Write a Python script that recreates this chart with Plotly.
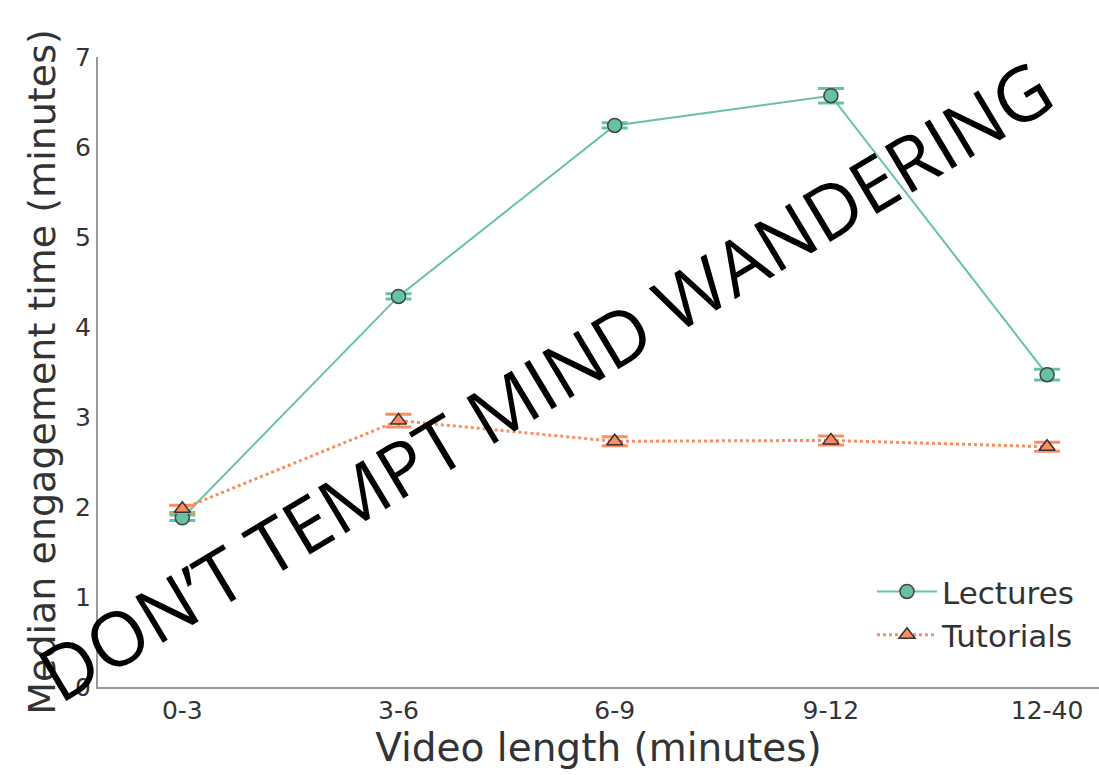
import plotly.graph_objects as go

categories = ["0-3", "3-6", "6-9", "9-12", "12-40"]
lectures = [1.88, 4.34, 6.24, 6.57, 3.47]
lectures_err = [0.03, 0.03, 0.03, 0.08, 0.06]
tutorials = [1.98, 2.96, 2.73, 2.74, 2.67]
tutorials_err = [0.04, 0.07, 0.05, 0.05, 0.05]
y_ticks = [0, 1, 2, 3, 4, 5, 6, 7]

GREEN = "#66c2a5"
ORANGE = "#fc8d62"
FONT = "DejaVu Sans"

fig = go.Figure()
fig.add_trace(go.Scatter(
    x=categories, y=lectures, name="Lectures", mode="lines+markers",
    line=dict(color=GREEN, width=2),
    marker=dict(symbol="circle", size=14, color=GREEN, line=dict(color="#444", width=1.5)),
    error_y=dict(type="data", array=lectures_err, color=GREEN, thickness=3, width=13),
))
fig.add_trace(go.Scatter(
    x=categories, y=tutorials, name="Tutorials", mode="lines+markers",
    line=dict(color=ORANGE, width=3, dash="dot"),
    marker=dict(symbol="triangle-up", size=14, color=ORANGE, line=dict(color="#333", width=1.5)),
    error_y=dict(type="data", array=tutorials_err, color=ORANGE, thickness=3, width=13),
))

fig.add_annotation(
    text="DON\u2019T TEMPT MIND WANDERING", xref="paper", yref="paper",
    x=0.4456, y=0.487, xanchor="center", yanchor="middle", showarrow=False,
    textangle=-31, font=dict(family="Open Sans", size=75, color="black"),
)

fig.update_layout(
    width=1099, height=775,
    paper_bgcolor="white", plot_bgcolor="white",
    margin=dict(l=98, r=0, t=57, b=88, autoexpand=False),
    font=dict(family=FONT, color="#333333"),
    showlegend=True,
    legend=dict(x=0.98, y=0.04, xanchor="right", yanchor="bottom",
                font=dict(size=31, family=FONT, color="#333333"),
                bgcolor="rgba(0,0,0,0)", itemwidth=60, tracegroupgap=2),
    xaxis=dict(
        type="category", range=[-0.39, 4.24], automargin=False,
        showline=True, linecolor="#999999", linewidth=2,
        showgrid=False, zeroline=False, ticks="",
        tickfont=dict(size=25, family=FONT, color="#333333"),
        title=dict(text="Video length (minutes)", font=dict(size=39, family=FONT, color="#333333"), standoff=6),
    ),
    yaxis=dict(
        range=[0, 7], tickvals=y_ticks, automargin=False,
        showline=True, linecolor="#999999", linewidth=2,
        showgrid=False, zeroline=False, ticks="",
        tickfont=dict(size=25, family=FONT, color="#333333"),
        title=dict(text="Median engagement time (minutes)", font=dict(size=38, family=FONT, color="#333333"), standoff=8),
    ),
)

fig.write_html("out.html", config={"displayModeBar": False},
               post_script="document.body.style.margin='0px'; document.body.style.overflow='hidden';")
